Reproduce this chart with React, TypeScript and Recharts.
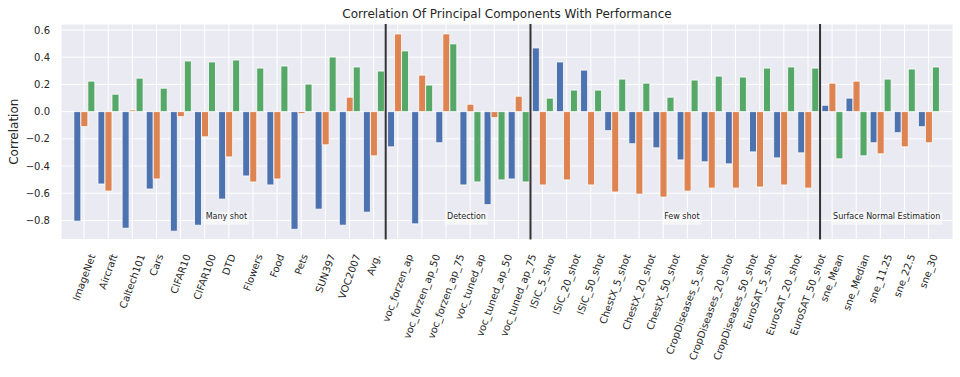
import React from 'react';
import { BarChart, Bar, XAxis, YAxis, CartesianGrid, ReferenceLine, ReferenceDot } from 'recharts';

const categories = [
  'ImageNet', 'Aircraft', 'Caltech101', 'Cars', 'CIFAR10', 'CIFAR100', 'DTD', 'Flowers', 'Food', 'Pets',
  'SUN397', 'VOC2007', 'Avg.',
  'voc_forzen_ap', 'voc_forzen_ap_50', 'voc_forzen_ap_75', 'voc_tuned_ap', 'voc_tuned_ap_50', 'voc_tuned_ap_75',
  'ISIC_5_shot', 'ISIC_20_shot', 'ISIC_50_shot', 'ChestX_5_shot', 'ChestX_20_shot', 'ChestX_50_shot',
  'CropDiseases_5_shot', 'CropDiseases_20_shot', 'CropDiseases_50_shot', 'EuroSAT_5_shot', 'EuroSAT_20_shot', 'EuroSAT_50_shot',
  'sne_Mean', 'sne_Median', 'sne_11.25', 'sne_22.5', 'sne_30',
];

const pc1 = [
  -0.805, -0.532, -0.857, -0.569, -0.879, -0.835, -0.643, -0.473, -0.539, -0.865, -0.717, -0.835, -0.739,
  -0.259, -0.825, -0.229, -0.539, -0.684, -0.495,
  0.468, 0.365, 0.305, -0.140, -0.236, -0.266,
  -0.355, -0.369, -0.384, -0.296, -0.340, -0.303,
  0.047, 0.099, -0.229, -0.155, -0.111,
];

const pc2 = [
  -0.110, -0.584, 0.012, -0.495, -0.037, -0.185, -0.333, -0.517, -0.495, -0.015, -0.244, 0.106, -0.325,
  0.571, 0.268, 0.571, 0.054, -0.044, 0.113,
  -0.539, -0.502, -0.539, -0.591, -0.606, -0.628,
  -0.584, -0.562, -0.562, -0.554, -0.539, -0.562,
  0.209, 0.224, -0.310, -0.259, -0.229,
];

const pc3 = [
  0.224, 0.128, 0.246, 0.172, 0.372, 0.365, 0.379, 0.320, 0.335, 0.202, 0.401, 0.328, 0.298,
  0.446, 0.195, 0.498, -0.517, -0.502, -0.517,
  0.099, 0.158, 0.158, 0.239, 0.209, 0.106,
  0.232, 0.261, 0.254, 0.320, 0.328, 0.320,
  -0.347, -0.325, 0.239, 0.313, 0.328,
];

const yTicks = [-0.8, -0.6, -0.4, -0.2, 0, 0.2, 0.4, 0.6];
const sectionStarts = ['voc_forzen_ap', 'ISIC_5_shot', 'sne_Mean'];
const sectionAnchors = ['CIFAR100', 'voc_forzen_ap_75', 'ChestX_50_shot', 'sne_Mean'];
const sectionTexts = ['Many shot', 'Detection', 'Few shot', 'Surface Normal Estimation'];
const sectionLabelY = -0.8;

const data = categories.map((name, i) => ({ name, pc1: pc1[i], pc2: pc2[i], pc3: pc3[i] }));

const FONT = '"DejaVu Sans", Verdana, sans-serif';
const TEXT = '#262626';

let ctx: CanvasRenderingContext2D | null = null;
function measure(text: string, size: number): number {
  if (!ctx) ctx = document.createElement('canvas').getContext('2d');
  if (!ctx) return text.length * size * 0.6;
  ctx.font = `${size}px "DejaVu Sans"`;
  return ctx.measureText(text).width;
}

const XTick = (props: any) => {
  const { x, y, payload } = props;
  const fs = 10;
  const w = measure(String(payload.value), fs);
  const a = (70 * Math.PI) / 180;
  const H = w * Math.sin(a) + 1.164 * fs * Math.cos(a);
  const top = y + 5;
  const cy = top + H / 2;
  return (
    <text
      x={x}
      y={cy}
      dy={0.346 * fs}
      textAnchor="middle"
      transform={`rotate(-70, ${x}, ${cy})`}
      fontSize={fs}
      fill={TEXT}
      fontFamily={FONT}
    >
      {payload.value}
    </text>
  );
};

const makeAnnot = (text: string) => (p: any) => {
  const { cx, cy } = p;
  const fs = 8;
  const w = measure(text, fs);
  const base = cy - 1.5;
  return (
    <g>
      <rect x={cx - 1} y={base - 6.8} width={w + 4} height={12.6} fill="#ffffff" fillOpacity={0.55} />
      <text x={cx + 1} y={base} fontSize={fs} fill={TEXT} fontFamily={FONT}>{text}</text>
    </g>
  );
};

const fmt = (v: number) => {
  const s = Math.abs(v).toFixed(1);
  return v < -1e-9 ? '\u2212' + s : s;
};

export default function App() {
  return (
    <div style={{ position: 'absolute', left: 0, top: 0, width: 960, height: 377, background: '#fff', fontFamily: FONT }}>
      <BarChart
        width={960}
        height={377}
        data={data}
        margin={{ top: 24, right: 7, bottom: 0, left: 0 }}
        barCategoryGap={1.85}
        barGap={0}
      >
        <CartesianGrid stroke="#ffffff" strokeWidth={1} fill="#EAEAF2" fillOpacity={1} vertical horizontal />
        <XAxis
          dataKey="name"
          height={137.5}
          padding={{ left: 11, right: 12.3 }}
          axisLine={false}
          tickLine={false}
          interval={0}
          tick={<XTick />}
        />
        <YAxis
          type="number"
          width={61}
          domain={[-0.94, 0.644]}
          ticks={yTicks}
          tickFormatter={fmt}
          axisLine={false}
          tickLine={false}
          tickMargin={5}
          tick={{ fontSize: 10, fill: TEXT, fontFamily: FONT }}
        />
        <Bar dataKey="pc1" fill="#4C72B0" stroke="#ffffff" strokeWidth={0.8} isAnimationActive={false} />
        <Bar dataKey="pc2" fill="#DD8452" stroke="#ffffff" strokeWidth={0.8} isAnimationActive={false} />
        <Bar dataKey="pc3" fill="#55A868" stroke="#ffffff" strokeWidth={0.8} isAnimationActive={false} />
        {sectionStarts.map((c) => (
          <ReferenceLine key={c} x={c} position="start" stroke="#333333" strokeWidth={2} />
        ))}
        {sectionAnchors.map((c, i) => (
          <ReferenceDot key={c} x={c} y={sectionLabelY} r={0} shape={makeAnnot(sectionTexts[i])} />
        ))}
      </BarChart>
      <svg width={960} height={377} style={{ position: 'absolute', left: 0, top: 0, pointerEvents: 'none' }}>
        <text x={507} y={18} textAnchor="middle" fontSize={12} fill={TEXT} fontFamily={FONT}>
          Correlation Of Principal Components With Performance
        </text>
        <text x={17.8} y={131.7} textAnchor="middle" fontSize={12} fill={TEXT} fontFamily={FONT} transform="rotate(-90, 17.8, 131.7)">
          Correlation
        </text>
      </svg>
    </div>
  );
}
